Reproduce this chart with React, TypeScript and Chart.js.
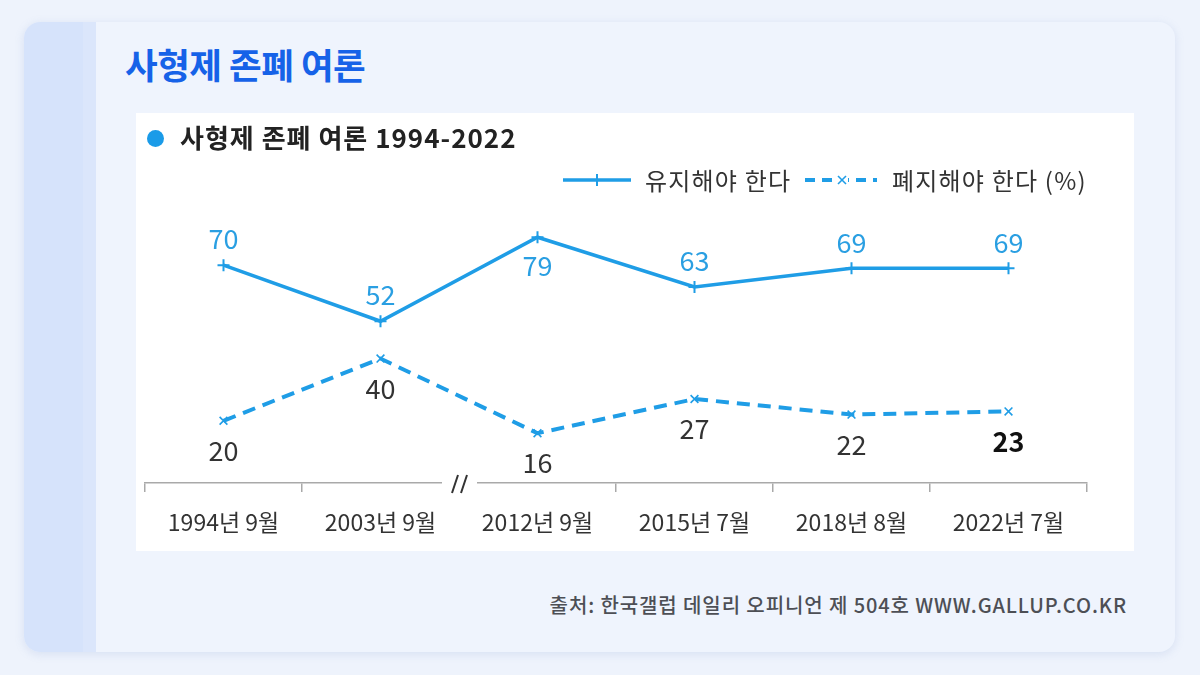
import React, { useEffect, useRef } from "react";
import { Chart, registerables } from "chart.js";

Chart.register(...registerables);

// ---- data ----
const categories = ["1994년 9월", "2003년 9월", "2012년 9월", "2015년 7월", "2018년 8월", "2022년 7월"];
const keepValues = [70, 52, 79, 63, 69, 69];
const abolishValues = [20, 40, 16, 27, 22, 23];
const seriesNames = ["유지해야 한다", "폐지해야 한다 (%)"];
const pageTitle = "사형제 존폐 여론";
const chartTitle = "사형제 존폐 여론 1994-2022";
const sourceText = "출처: 한국갤럽 데일리 오피니언 제 504호 WWW.GALLUP.CO.KR";
const yMin = 0;
const yMax = 90;
const breakAfterIndex = 1; // axis break between 2003 and 2012

const FONT = '"Noto Sans CJK KR", "Noto Sans", sans-serif';
const BLUE = "#1f9de6";

const labelPlugin = {
  id: "valueLabels",
  afterDatasetsDraw(chart: any) {
    const ctx = chart.ctx;
    chart.data.datasets.forEach((ds: any, di: number) => {
      const meta = chart.getDatasetMeta(di);
      const st = ds.labelStyle;
      meta.data.forEach((pt: any, i: number) => {
        const v = ds.data[i];
        const below = st.below[i];
        const bold = st.bold[i];
        ctx.save();
        ctx.font = `${bold ? 700 : 400} 27px ${FONT}`;
        ctx.fillStyle = bold ? "#111111" : st.color;
        ctx.textAlign = "center";
        ctx.textBaseline = "middle";
        ctx.fillText(String(v), pt.x, pt.y + (below ? st.offBelow : -st.offAbove));
        ctx.restore();
      });
    });
  },
};

const breakPlugin = {
  id: "axisBreak",
  afterDraw(chart: any) {
    const xs = chart.scales.x;
    const ctx = chart.ctx;
    const x = (xs.getPixelForValue(breakAfterIndex) + xs.getPixelForValue(breakAfterIndex + 1)) / 2;
    const y = chart.chartArea.bottom;
    ctx.save();
    ctx.fillStyle = "#ffffff";
    ctx.fillRect(x - 17, y - 4, 35, 15);
    ctx.strokeStyle = "#333333";
    ctx.lineWidth = 2;
    ctx.beginPath();
    ctx.moveTo(x - 7, y + 10);
    ctx.lineTo(x - 1, y - 8);
    ctx.moveTo(x + 2, y + 10);
    ctx.lineTo(x + 8, y - 8);
    ctx.stroke();
    ctx.restore();
  },
};

function LineChart() {
  const ref = useRef<HTMLCanvasElement | null>(null);
  useEffect(() => {
    if (!ref.current) return;
    const chart = new Chart(ref.current, {
      type: "line",
      data: {
        labels: categories,
        datasets: [
          {
            label: seriesNames[0],
            data: keepValues,
            borderColor: BLUE,
            backgroundColor: BLUE,
            borderWidth: 3.5,
            pointStyle: "cross",
            pointRadius: 6,
            pointBorderWidth: 2,
            pointBorderColor: BLUE,
            tension: 0,
            fill: false,
            labelStyle: {
              color: "#2a9fe2",
              below: [false, false, true, false, false, false],
              bold: [false, false, false, false, false, false],
              offAbove: 26,
              offBelow: 29,
            },
          } as any,
          {
            label: seriesNames[1],
            data: abolishValues,
            borderColor: BLUE,
            backgroundColor: BLUE,
            borderWidth: 4,
            borderDash: [13, 8],
            pointStyle: "crossRot",
            pointRadius: 5.5,
            pointBorderWidth: 1.6,
            pointBorderColor: BLUE,
            tension: 0,
            fill: false,
            labelStyle: {
              color: "#333333",
              below: [true, true, true, true, true, true],
              bold: [false, false, false, false, false, true],
              offAbove: 26,
              offBelow: 30,
            },
          } as any,
        ],
      },
      options: {
        responsive: false,
        maintainAspectRatio: false,
        animation: false,
        devicePixelRatio: 1,
        layout: { padding: { left: 9, right: 47, top: 90, bottom: 0 } },
        plugins: {
          legend: { display: false },
          title: { display: false },
          tooltip: { enabled: false },
        },
        scales: {
          x: {
            offset: true,
            grid: {
              display: true,
              drawOnChartArea: false,
              drawTicks: true,
              tickLength: 9,
              color: "#a9a9a9",
              lineWidth: 1.5,
              offset: true,
            },
            border: { display: true, color: "#a9a9a9", width: 1.5 },
            ticks: {
              color: "#333333",
              font: { family: FONT, size: 23 },
              padding: 16,
              maxRotation: 0,
              autoSkip: false,
            },
            afterFit(scale: any) {
              scale.height = 68;
            },
          },
          y: { display: false, min: yMin, max: yMax },
        },
      },
      plugins: [labelPlugin, breakPlugin],
    });
    return () => chart.destroy();
  }, []);
  return <canvas ref={ref} width={998} height={438} style={{ display: "block", width: 998, height: 438 }} />;
}

function LegendLine({ dashed }: { dashed: boolean }) {
  return (
    <svg width={76} height={20} style={{ display: "block" }}>
      {dashed ? (
        <>
          <line x1={2} y1={10} x2={74} y2={10} stroke={BLUE} strokeWidth={4} strokeDasharray="10 7" />
          <rect x={33} y={4} width={12} height={12} fill="#ffffff" />
          <line x1={35} y1={6} x2={43} y2={14} stroke={BLUE} strokeWidth={1.6} />
          <line x1={43} y1={6} x2={35} y2={14} stroke={BLUE} strokeWidth={1.6} />
        </>
      ) : (
        <>
          <line x1={2} y1={10} x2={70} y2={10} stroke={BLUE} strokeWidth={3.5} />
          <line x1={36} y1={4} x2={36} y2={16} stroke={BLUE} strokeWidth={2} />
        </>
      )}
    </svg>
  );
}

export default function App() {
  return (
    <div
      style={{
        position: "fixed",
        left: 0,
        top: 0,
        width: 1200,
        height: 675,
        background: "#eef3fc",
        fontFamily: FONT,
        overflow: "hidden",
      }}
    >
      <div
        style={{
          position: "absolute",
          left: 24,
          top: 22,
          width: 1151,
          height: 630,
          borderRadius: 16,
          background: "#eff4fd",
          boxShadow: "0 2px 10px rgba(110,140,200,0.18)",
          overflow: "hidden",
        }}
      >
        <div style={{ position: "absolute", left: 0, top: 0, width: 59, height: "100%", background: "#d6e3fb" }} />
        <div style={{ position: "absolute", left: 59, top: 0, width: 13, height: "100%", background: "#dbe6fb" }} />
        <div
          style={{
            position: "absolute",
            left: 101,
            top: 20,
            fontSize: 35.5,
            fontWeight: 700,
            color: "#1662e8",
            lineHeight: "44px",
            letterSpacing: -0.5,
            whiteSpace: "nowrap",
          }}
        >
          {pageTitle}
        </div>
        <div
          style={{
            position: "absolute",
            left: 112,
            top: 91,
            width: 998,
            height: 438,
            background: "#ffffff",
          }}
        >
          <LineChart />
          <div
            style={{
              position: "absolute",
              left: 11,
              top: 17,
              width: 17,
              height: 17,
              borderRadius: "50%",
              background: "#1a9be8",
            }}
          />
          <div
            style={{
              position: "absolute",
              left: 44,
              top: 6,
              fontSize: 26,
              fontWeight: 700,
              color: "#222222",
              lineHeight: "36px",
              letterSpacing: 1,
              whiteSpace: "nowrap",
            }}
          >
            {chartTitle}
          </div>
          <div style={{ position: "absolute", left: 425, top: 57 }}>
            <LegendLine dashed={false} />
          </div>
          <div
            style={{
              position: "absolute",
              left: 509,
              top: 50,
              fontSize: 24,
              color: "#333333",
              lineHeight: "34px",
              letterSpacing: 1.2,
              whiteSpace: "nowrap",
            }}
          >
            {seriesNames[0]}
          </div>
          <div style={{ position: "absolute", left: 667, top: 57 }}>
            <LegendLine dashed={true} />
          </div>
          <div
            style={{
              position: "absolute",
              left: 756,
              top: 50,
              fontSize: 24,
              color: "#333333",
              lineHeight: "34px",
              letterSpacing: 1.2,
              whiteSpace: "nowrap",
            }}
          >
            {seriesNames[1]}
          </div>
        </div>
        <div
          style={{
            position: "absolute",
            right: 48,
            top: 569,
            fontSize: 20,
            fontWeight: 500,
            color: "#4d4f55",
            lineHeight: "28px",
            letterSpacing: 0.9,
            whiteSpace: "nowrap",
          }}
        >
          {sourceText}
        </div>
      </div>
    </div>
  );
}
